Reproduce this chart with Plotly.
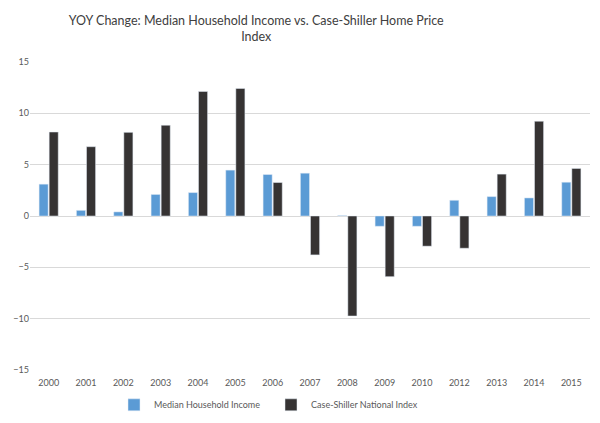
import plotly.graph_objects as go

years = ["2000", "2001", "2002", "2003", "2004", "2005", "2006", "2007",
         "2008", "2009", "2010", "2012", "2013", "2014", "2015"]
median_income = [3.1, 0.55, 0.4, 2.1, 2.28, 4.47, 4.04, 4.17,
                 0.05, -1.0, -1.0, 1.53, 1.89, 1.76, 3.29]
case_shiller = [8.18, 6.75, 8.15, 8.84, 12.13, 12.42, 3.26, -3.79,
                -9.74, -5.91, -2.94, -3.14, 4.08, 9.23, 4.63]

font_family = "Lato, Open Sans, sans-serif"

fig = go.Figure()
fig.add_trace(go.Bar(x=years, y=median_income, name="Median Household Income",
                     marker_color="#5b9bd5"))
fig.add_trace(go.Bar(x=years, y=case_shiller, name="Case-Shiller National Index",
                     marker_color="#363333"))

# page body has an 8px margin, so the figure is a bit smaller than the window
fig.update_layout(
    width=584, height=407,
    title=dict(text="YOY Change: Median Household Income vs. Case-Shiller Home Price<br>Index",
               x=0.425, xanchor="center", y=0.958, yanchor="top",
               font=dict(family=font_family, size=12.5, color="#404040")),
    font=dict(family=font_family, size=9, color="#595959"),
    plot_bgcolor="white", paper_bgcolor="white",
    margin=dict(l=22, r=2, t=54, b=45, autoexpand=False),
    barmode="group", bargap=0.46, bargroupgap=0.1,
    legend=dict(orientation="h", x=0.15, xanchor="left",
                yref="container", y=0.025, yanchor="middle",
                entrywidth=112, entrywidthmode="pixels",
                font=dict(size=9, color="#595959")),
    xaxis=dict(type="category", showgrid=False, ticks="", showline=False,
               automargin=False, ticklabelstandoff=6),
    yaxis=dict(range=[-15, 15], dtick=5, showgrid=True, gridcolor="#d9d9d9",
               zeroline=True, zerolinecolor="#d9d9d9", zerolinewidth=1,
               showline=False, ticks="", automargin=False),
)

fig.write_html("out.html")
